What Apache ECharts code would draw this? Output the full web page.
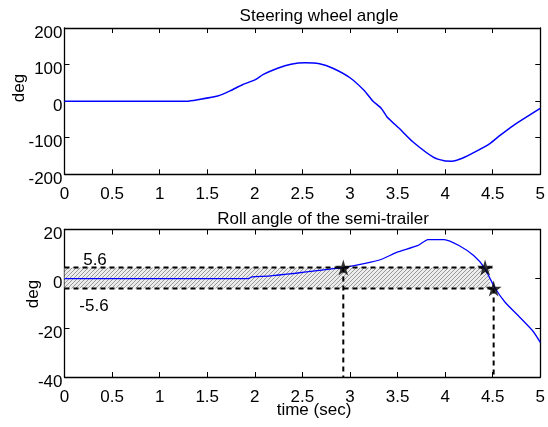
<!DOCTYPE html>
<html><head><meta charset="utf-8">
<script src="https://cdn.jsdelivr.net/npm/echarts@6/dist/echarts.min.js"></script>
<style>html,body{margin:0;padding:0;background:#fff}#c{width:548px;height:427px}</style>
</head><body><div id="c"></div>
<script>
// ---- data ----
const timeSteer = [0, 1.285, 1.41, 1.61, 1.74, 1.87, 2.0, 2.09, 2.24, 2.38, 2.53, 2.68, 2.82, 3.0, 3.15, 3.24, 3.33, 3.39, 3.52, 3.66, 3.88, 3.99, 4.07, 4.18, 4.32, 4.47, 4.58, 4.72, 4.87, 5.0];
const steerDeg  = [0, 0, 4.5, 14, 28, 45, 58, 73, 90, 101, 105, 102, 90, 64, 29, 0.5, -20, -43, -75, -111, -154, -163, -164, -156, -138, -116, -93, -66, -41, -20];
const timeRoll = [0, 1.93, 1.97, 2.14, 2.25, 2.43, 2.61, 2.79, 2.93, 3.16, 3.34, 3.49, 3.71, 3.82, 3.99, 4.15, 4.30, 4.41, 4.52, 4.63, 4.77, 4.92, 5.0];
const rollDeg  = [0, 0, 0.7, 1.0, 1.5, 2.2, 3.1, 3.9, 4.5, 6.2, 8.0, 10.7, 13.4, 15.9, 15.9, 13.4, 9.4, 4.6, -3.5, -9.6, -15.1, -21.2, -25.9];
const bandUpper = 4.5;
const bandLower = -4.0;
const bandEnd = 4.47;
const lineEnd = 4.53;
const starTimes = [2.93, 4.42, 4.51];
const starVals  = [bandUpper, bandUpper, bandLower];
const dropTimes = [2.93, 4.51];
const dropFrom  = [bandUpper, bandLower];
const bandLabels = ['5.6', '-5.6'];
const titles = ['Steering wheel angle', 'Roll angle of the semi-trailer'];
const yName = 'deg';
const xName = 'time (sec)';
const xMin = 0, xMax = 5, xStep = 0.5;
const y1Min = -200, y1Max = 200, y1Step = 100;
const y2Min = -40, y2Max = 20, y2Step = 20;

// ---- build ----
const FONT = '"Liberation Sans", Arial, Helvetica, sans-serif';
const FS = 17;
function zip(a, b) { return a.map((v, i) => [v, b[i]]); }
function hatch() {
  const c = document.createElement('canvas'); c.width = 4; c.height = 4;
  const g = c.getContext('2d');
  g.fillStyle = '#ececec'; g.fillRect(0, 0, 4, 4);
  g.strokeStyle = '#999'; g.lineWidth = 1;
  g.beginPath(); g.moveTo(0, 4); g.lineTo(4, 0); g.stroke();
  return c;
}
const star = 'path://M50,0 L61,35 L98,35 L68,57 L79,91 L50,70 L21,91 L32,57 L2,35 L39,35 Z';
const axLine = { show: true, onZero: false, lineStyle: { color: '#000', width: 1.3 } };
const tick = { show: true, inside: true, length: 5, lineStyle: { color: '#000', width: 1 } };
const lblX = { show: true, color: '#000', fontFamily: FONT, fontSize: FS, margin: 12 };
const lblY = { show: true, color: '#000', fontFamily: FONT, fontSize: FS, margin: 2, verticalAlign: 'top', lineHeight: 10 };
function xAx(grid, pos, lab) {
  return { type: 'value', gridIndex: grid, position: pos, min: xMin, max: xMax, interval: xStep,
    axisLine: axLine, axisTick: tick, axisLabel: lab ? lblX : { show: false }, splitLine: { show: false } };
}
function yAx(grid, pos, lab, mn, mx, st) {
  return { type: 'value', gridIndex: grid, position: pos, min: mn, max: mx, interval: st,
    axisLine: axLine, axisTick: tick, axisLabel: lab ? lblY : { show: false }, splitLine: { show: false } };
}
const dash = { color: '#000', width: 2, type: [5, 4] };
function seg(pts) {
  return { type: 'line', xAxisIndex: 2, yAxisIndex: 2, data: pts, symbol: 'none', silent: true,
    lineStyle: dash, z: 4, animation: false };
}
const txt = (text, x, y, rot) => ({ type: 'text', x: x, y: y, rotation: rot || 0,
  style: { text: text, fill: '#000', font: FS + 'px ' + FONT, textAlign: 'center', textVerticalAlign: 'middle' } });

const option = {
  animation: false,
  backgroundColor: '#fff',
  grid: [
    { left: 64.5, top: 28, width: 479, height: 146.3 },
    { left: 64.5, top: 229.5, width: 479, height: 147.5 }
  ],
  xAxis: [xAx(0, 'bottom', true), xAx(0, 'top', false), xAx(1, 'bottom', true), xAx(1, 'top', false)],
  yAxis: [yAx(0, 'left', true, y1Min, y1Max, y1Step), yAx(0, 'right', false, y1Min, y1Max, y1Step),
          yAx(1, 'left', true, y2Min, y2Max, y2Step), yAx(1, 'right', false, y2Min, y2Max, y2Step)],
  series: [
    { type: 'line', xAxisIndex: 0, yAxisIndex: 0, data: zip(timeSteer, steerDeg), symbol: 'none',
      smooth: 0.2, lineStyle: { color: '#0000ff', width: 1.5 }, z: 3 },
    { type: 'line', xAxisIndex: 2, yAxisIndex: 2, data: zip(timeRoll, rollDeg), symbol: 'none',
      smooth: 0.2, lineStyle: { color: '#0000ff', width: 1.3 }, z: 3,
      markArea: { silent: true, z: 1, itemStyle: { color: { image: hatch(), repeat: 'repeat' } },
        data: [[{ coord: [xMin, bandLower] }, { coord: [bandEnd, bandUpper] }]] } },
    seg([[xMin, bandUpper], [lineEnd, bandUpper]]),
    seg([[xMin, bandLower], [lineEnd, bandLower]]),
    seg([[dropTimes[0], dropFrom[0]], [dropTimes[0], y2Min]]),
    seg([[dropTimes[1], dropFrom[1]], [dropTimes[1], y2Min]]),
    { type: 'scatter', xAxisIndex: 2, yAxisIndex: 2, data: zip(starTimes, starVals), symbol: star,
      symbolSize: 16, itemStyle: { color: '#000' }, z: 6 }
  ],
  graphic: [
    txt(titles[0], 319, 16.5),
    txt(titles[1], 323, 219),
    txt(xName, 314, 410),
    txt(yName, 19, 88, Math.PI / 2),
    txt(yName, 33, 294, Math.PI / 2),
    txt(bandLabels[0], 95, 260),
    txt(bandLabels[1], 94, 306)
  ]
};
const chart = echarts.init(document.getElementById('c'), null, { renderer: 'canvas' });
chart.setOption(option);
</script></body></html>
